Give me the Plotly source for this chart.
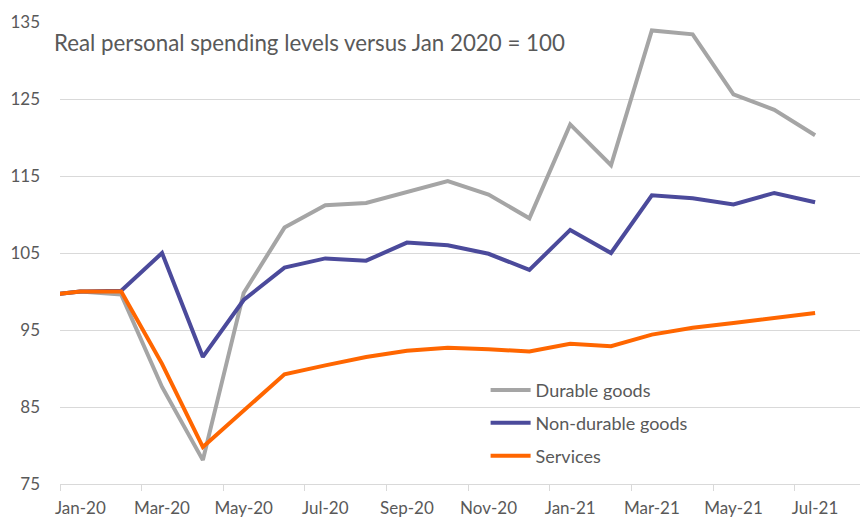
import plotly.graph_objects as go

months = ["Dec-19", "Jan-20", "Feb-20", "Mar-20", "Apr-20", "May-20", "Jun-20", "Jul-20",
          "Aug-20", "Sep-20", "Oct-20", "Nov-20", "Dec-20", "Jan-21", "Feb-21", "Mar-21",
          "Apr-21", "May-21", "Jun-21", "Jul-21"]
durable = [99.4, 100.0, 99.6, 87.6, 78.1, 99.8, 108.3, 111.2, 111.5, 112.9, 114.35, 112.6,
           109.5, 121.7, 116.4, 133.9, 133.4, 125.6, 123.6, 120.3]
nondurable = [99.4, 100.0, 100.1, 105.0, 91.5, 98.9, 103.1, 104.3, 104.0, 106.35, 106.0,
              104.9, 102.8, 108.0, 105.0, 112.5, 112.1, 111.3, 112.8, 111.6]
services = [99.4, 100.0, 100.0, 90.6, 79.8, 84.6, 89.25, 90.4, 91.5, 92.3, 92.7, 92.5, 92.2,
            93.2, 92.9, 94.4, 95.3, 95.9, 96.5, 97.2]
y_ticks = [75, 85, 95, 105, 115, 125, 135]
title_text = "Real personal spending levels versus Jan 2020 = 100"

# numeric positions: Jan-20 = 0
xpos = [i - 1 for i in range(len(months))]
label_idx = [i for i, m in enumerate(months) if m.split("-")[0] in ("Jan", "Mar", "May", "Jul", "Sep", "Nov")]
label_pos = [xpos[i] for i in label_idx]
label_txt = [months[i] for i in label_idx]
boundary_pos = [p - 0.5 for p in label_pos]

font_family = "Lato, 'Open Sans', sans-serif"
txt_col = "#595959"

fig = go.Figure()
series = [("Durable goods", durable, "#A5A5A5"),
          ("Non-durable goods", nondurable, "#4B4A9B"),
          ("Services", services, "#FF6600")]
for name, vals, col in series:
    fig.add_trace(go.Scatter(x=xpos, y=vals, mode="lines", name=name, legendgroup=name,
                             line=dict(color=col, width=4)))

fig.update_layout(
    width=860, height=518,
    margin=dict(l=60, r=0, t=22, b=34),
    paper_bgcolor="white", plot_bgcolor="white",
    font=dict(family=font_family, size=15, color=txt_col),
    showlegend=True,
    legend=dict(x=0.532, y=0.243, xanchor="left", yanchor="top", itemwidth=40,
                bgcolor="rgba(0,0,0,0)", traceorder="grouped", tracegroupgap=6.5,
                font=dict(size=18, color=txt_col)),
    xaxis=dict(range=[-0.5, 19.1], tickmode="array", tickvals=label_pos, ticktext=label_txt,
               ticks="", showgrid=False, zeroline=False, showline=True, automargin=False,
               linecolor="#D9D9D9", linewidth=1.3, ticklabelstandoff=8,
               tickfont=dict(size=17, color=txt_col),
               minor=dict(tickmode="array", tickvals=boundary_pos, ticks="outside",
                          ticklen=6, tickcolor="#D9D9D9", tickwidth=1.3, showgrid=False)),
    yaxis=dict(range=[75, 135], tickmode="array", tickvals=y_ticks, showgrid=True,
               gridcolor="#D9D9D9", gridwidth=1.3, zeroline=False, showline=False,
               automargin=False,
               ticks="", ticklabelstandoff=19, tickfont=dict(size=17, color=txt_col)),
    annotations=[dict(text=title_text, xref="paper", yref="paper", x=-0.01, y=0.955,
                      xanchor="left", yanchor="middle", showarrow=False,
                      font=dict(size=22.3, color=txt_col, family=font_family))],
)

fig.write_html("out.html")
